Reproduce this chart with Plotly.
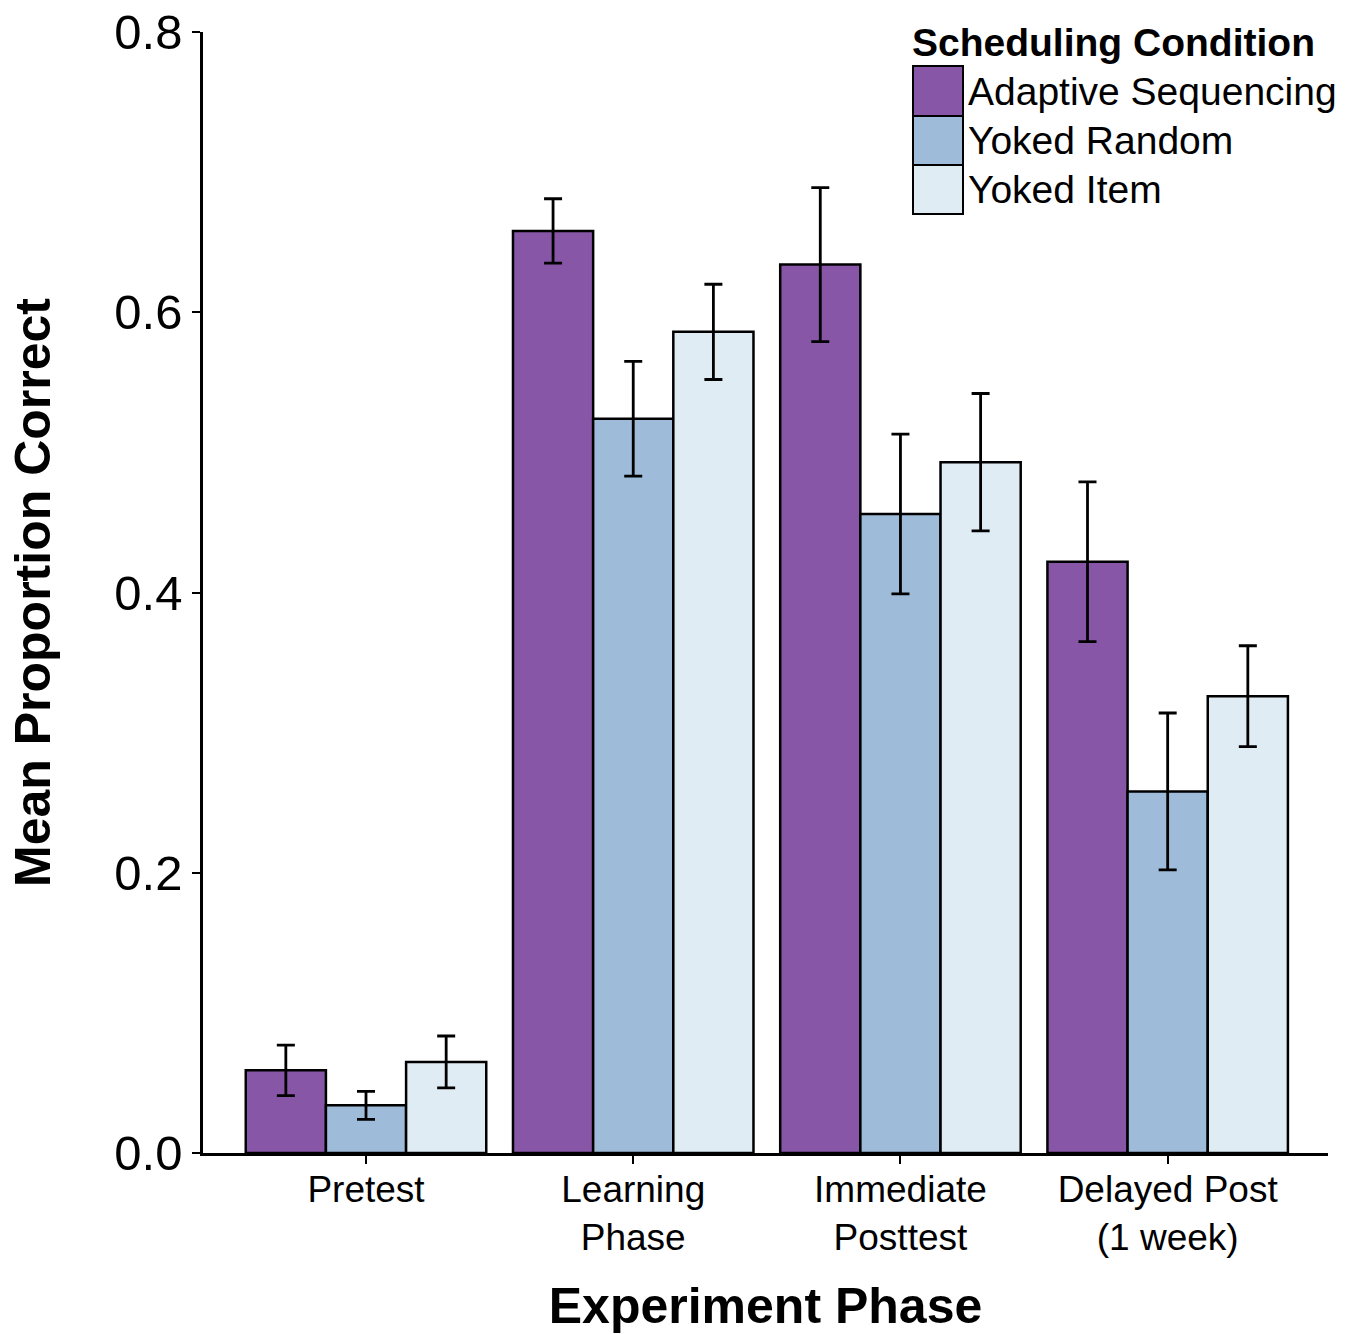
import plotly.graph_objects as go

phases = ["Pretest", "Learning<br>Phase", "Immediate<br>Posttest", "Delayed Post<br>(1 week)"]
conditions = ["Adaptive Sequencing", "Yoked Random", "Yoked Item"]
means = {
    "Adaptive Sequencing": [0.059, 0.658, 0.634, 0.422],
    "Yoked Random": [0.034, 0.524, 0.456, 0.258],
    "Yoked Item": [0.065, 0.586, 0.493, 0.326],
}
errors = {
    "Adaptive Sequencing": [0.018, 0.023, 0.055, 0.057],
    "Yoked Random": [0.010, 0.041, 0.057, 0.056],
    "Yoked Item": [0.0185, 0.034, 0.049, 0.036],
}
colors = {
    "Adaptive Sequencing": "#8856a7",
    "Yoked Random": "#9ebcda",
    "Yoked Item": "#e0ecf4",
}
yticks = [0.0, 0.2, 0.4, 0.6, 0.8]
legend_title = "Scheduling Condition"

FONT = "Arial, Liberation Sans, sans-serif"

fig = go.Figure()
for c in conditions:
    fig.add_trace(go.Bar(
        x=list(range(len(phases))), y=means[c], name=c,
        marker=dict(color=colors[c], line=dict(color="black", width=2.5)),
        error_y=dict(type="data", array=errors[c], color="black", thickness=2.8, width=9),
        showlegend=False,
    ))

# custom legend (paper coordinates)
W, H = 1125.0, 1121.0
def px(x):
    return (x - 203) / W
def py(y):
    return (1153 - y) / H

box_edges = [66, 116, 165, 214]
for i, c in enumerate(conditions):
    fig.add_shape(type="rect", xref="paper", yref="paper",
                  x0=px(913), x1=px(963), y0=py(box_edges[i + 1]), y1=py(box_edges[i]),
                  fillcolor=colors[c], line=dict(color="black", width=2))
    fig.add_annotation(xref="paper", yref="paper", x=px(966),
                       y=py((box_edges[i] + box_edges[i + 1]) / 2),
                       text=c, showarrow=False, xanchor="left", yanchor="middle",
                       font=dict(family=FONT, size=39, color="black"))
fig.add_annotation(xref="paper", yref="paper", x=px(910), y=py(42),
                   text="<b>" + legend_title + "</b>", showarrow=False,
                   xanchor="left", yanchor="middle",
                   font=dict(family=FONT, size=39, color="black"))

fig.update_layout(
    width=1360, height=1334,
    margin=dict(l=203, r=32, t=32, b=181, autoexpand=False),
    paper_bgcolor="white", plot_bgcolor="white",
    barmode="group", bargap=0.1, bargroupgap=0,
    font=dict(family=FONT, color="black"),
)
fig.update_xaxes(
    tickmode="array", tickvals=list(range(len(phases))), ticktext=phases,
    range=[-0.61, 3.6], showline=True, linecolor="black", linewidth=2.5,
    ticks="outside", ticklen=8, tickwidth=2, tickcolor="black",
    tickfont=dict(size=37, family=FONT), showgrid=False, zeroline=False,
    ticklabelstandoff=-6,
    automargin=False,
    title=dict(text="<b>Experiment Phase</b>", font=dict(size=50, family=FONT), standoff=32),
)
fig.update_yaxes(
    range=[0, 0.8], tickmode="array", tickvals=yticks,
    ticktext=[f"{v:.1f}" for v in yticks],
    showline=True, linecolor="black", linewidth=2.5,
    ticks="outside", ticklen=8, tickwidth=2, tickcolor="black",
    tickfont=dict(size=49, family=FONT), showgrid=False, zeroline=False,
    automargin=False,
    title=dict(text="<b>Mean Proportion Correct</b>", font=dict(size=50, family=FONT), standoff=48),
)

fig.write_html("out.html")
